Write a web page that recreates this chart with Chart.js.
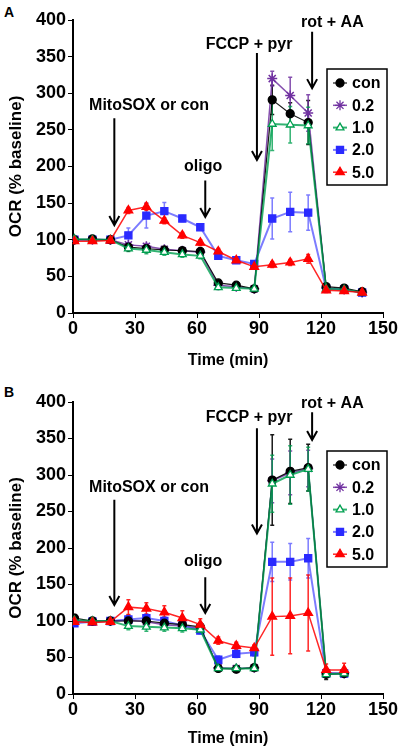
<!DOCTYPE html>
<html>
<head>
<meta charset="utf-8">
<script src="https://cdn.jsdelivr.net/npm/chart.js@4"></script>
<style>
  body { margin: 0; background: #fff; width: 400px; height: 752px; position: relative; overflow: hidden; }
  canvas { position: absolute; left: 0; }
  #chartA { top: 0; }
  #chartB { top: 382px; }
  .panel { position: absolute; left: 4px; font: bold 14px 'Liberation Sans', Arial, sans-serif; }
</style>
</head>
<body>
<div class="panel" style="top:4px">A</div>
<div class="panel" style="top:384px">B</div>
<canvas id="chartA" width="400" height="374"></canvas>
<canvas id="chartB" width="400" height="370"></canvas>
<script>
// time points (min)
const timeA = [0.7, 9.4, 18.1, 26.8, 35.5, 44.2, 52.9, 61.6, 70.3, 79.0, 87.7, 96.4, 105.1, 113.8, 122.5, 131.2, 139.9];
const timeB = [0.7, 9.4, 18.1, 26.8, 35.5, 44.2, 52.9, 61.6, 70.3, 79.0, 87.7, 96.4, 105.1, 113.8, 122.5, 131.2];

const seriesNames = ['con', '0.2', '1.0', '2.0', '5.0'];

// panel A, OCR (% baseline)
const conA = [100, 101, 100, 90, 88, 86, 85, 84, 41, 38, 33, 291, 272, 260, 36, 34, 29];
const p02A = [100, 100, 100, 93, 91, 87, 85, 83, 38, 36, 33, 320, 297, 273, 34, 32, 28];
const p10A = [101, 100, 100, 88, 86, 83, 80, 78, 35, 34, 33, 258, 257, 256, 33, 32, 28];
const p20A = [100, 100, 100, 106, 133, 139, 129, 117, 78, 72, 67, 129, 138, 137, 33, 32, 28];
const p50A = [98, 98, 99, 140, 145, 126, 106, 96, 84, 72, 63, 66, 69, 74, 31, 30, 28];
// error bars A
const conAErr = [2, 2, 2, 3, 3, 3, 3, 3, 3, 3, 3, 20, 15, 30, 3, 2, 2];
const p02AErr = [2, 2, 2, 3, 4, 3, 3, 3, 3, 3, 3, 10, 25, 25, 3, 2, 2];
const p10AErr = [3, 2, 2, 4, 5, 4, 4, 4, 3, 3, 3, 36, 25, 25, 3, 2, 2];
const p20AErr = [2, 2, 2, 10, 17, 12, 4, 3, 3, 3, 3, 28, 27, 24, 3, 2, 2];
const p50AErr = [3, 2, 2, 4, 5, 4, 4, 4, 4, 3, 3, 4, 4, 6, 3, 2, 2];

// panel B
const conB = [104, 100, 100, 100, 100, 97, 95, 92, 35, 34, 36, 293, 305, 310, 27, 28];
const p02B = [100, 100, 100, 101, 99, 95, 93, 90, 36, 35, 36, 292, 303, 309, 29, 28];
const p10B = [101, 100, 100, 93, 92, 91, 90, 88, 35, 35, 35, 288, 300, 308, 27, 28];
const p20B = [97, 99, 100, 102, 104, 100, 94, 87, 47, 55, 57, 181, 181, 186, 28, 28];
const p50B = [99, 98, 99, 119, 117, 112, 104, 95, 73, 66, 63, 106, 107, 111, 33, 33];
// error bars B
const conBErr = [5, 3, 3, 8, 8, 8, 6, 5, 3, 3, 3, 62, 44, 32, 7, 3];
const p02BErr = [3, 3, 3, 6, 6, 6, 5, 5, 3, 3, 3, 30, 30, 25, 3, 3];
const p10BErr = [3, 3, 3, 5, 6, 5, 5, 5, 3, 3, 3, 39, 40, 30, 3, 3];
const p20BErr = [4, 3, 3, 5, 6, 5, 4, 4, 5, 5, 5, 27, 25, 27, 4, 3];
const p50BErr = [4, 3, 3, 10, 8, 9, 10, 8, 5, 5, 4, 53, 52, 52, 8, 9];

// arrow annotations
const arrowLabels = ['MitoSOX or con', 'oligo', 'FCCP + pyr', 'rot + AA'];
const arrowTimes = [20, 64, 89, 115.7];
const labelTimes = [36.8, 63, 85.2, 125.5];

const FONT = "'Liberation Sans', Arial, sans-serif";

const styles = [
  { line: 'rgba(0,0,0,0.9)', point: '#000', fill: '#000', shape: 'circle', r: 4, w: 1.2 },
  { line: 'rgba(112,48,160,0.85)', point: '#7030a0', fill: '#7030a0', shape: 'star', r: 5, w: 1.5 },
  { line: 'rgba(0,160,80,0.8)', point: '#00a050', fill: '#fff', shape: 'triangle', r: 4.5, w: 2 },
  { line: 'rgba(80,80,255,0.75)', point: '#2a2aff', fill: '#2a2aff', shape: 'rect', r: 5, w: 2 },
  { line: 'rgba(255,0,0,0.85)', point: '#ff0000', fill: '#ff0000', shape: 'triangle', r: 5, w: 1.5 }
];
const drawOrder = [3, 5, 2, 4, 1];

function makeDatasets(times, values, errs) {
  return values.map((vals, i) => ({
    label: seriesNames[i],
    data: vals.map((v, k) => ({ x: times[k], y: v })),
    errorBars: errs[i],
    borderColor: styles[i].line,
    borderWidth: styles[i].w,
    pointStyle: styles[i].shape,
    pointRadius: styles[i].r,
    pointBorderColor: styles[i].point,
    pointBackgroundColor: styles[i].fill,
    pointBorderWidth: i === 1 ? 1.5 : 1.3,
    tension: 0,
    order: drawOrder[i]
  }));
}

const errorBarPlugin = {
  id: 'errorBars',
  beforeDatasetsDraw(chart) {
    const ctx = chart.ctx;
    const ys = chart.scales.y;
    chart.data.datasets.forEach((ds, i) => {
      const meta = chart.getDatasetMeta(i);
      ctx.save();
      ctx.strokeStyle = styles[i].line;
      ctx.lineWidth = 1.5;
      meta.data.forEach((pt, k) => {
        const e = ds.errorBars[k];
        const v = ds.data[k].y;
        const yTop = ys.getPixelForValue(v + e);
        const yBot = ys.getPixelForValue(v - e);
        ctx.beginPath();
        ctx.moveTo(pt.x, yTop); ctx.lineTo(pt.x, yBot);
        ctx.moveTo(pt.x - 2, yTop); ctx.lineTo(pt.x + 2, yTop);
        ctx.moveTo(pt.x - 2, yBot); ctx.lineTo(pt.x + 2, yBot);
        ctx.stroke();
      });
      ctx.restore();
    });
  }
};

const annotationPlugin = {
  id: 'arrowsLegend',
  afterDraw(chart) {
    const ctx = chart.ctx;
    const xs = chart.scales.x, ys = chart.scales.y;
    const ann = chart.options.plugins.arrowsLegend;
    ctx.save();
    ctx.font = 'bold 16px ' + FONT;
    ctx.fillStyle = '#000';
    ctx.strokeStyle = '#000';
    ctx.lineWidth = 2;
    ctx.textAlign = 'center';
    ctx.textBaseline = 'middle';
    arrowLabels.forEach((lab, i) => {
      ctx.fillText(lab, xs.getPixelForValue(labelTimes[i]), ys.getPixelForValue(ann.labelY[i]));
      const ax = xs.getPixelForValue(arrowTimes[i]);
      const y0 = ys.getPixelForValue(ann.top[i]);
      const y1 = ys.getPixelForValue(ann.tip[i]);
      ctx.beginPath();
      ctx.moveTo(ax, y0); ctx.lineTo(ax, y1);
      ctx.moveTo(ax - 5, y1 - 9); ctx.lineTo(ax, y1); ctx.lineTo(ax + 5, y1 - 9);
      ctx.stroke();
    });
    // legend box
    const bx = 327, by = chart.chartArea.top + 49, bw = 60, bh = 116;
    ctx.lineWidth = 1.5;
    ctx.strokeRect(bx, by, bw, bh);
    ctx.textAlign = 'left';
    chart.data.datasets.forEach((ds, i) => {
      const cy = by + 14 + i * 22.3;
      ctx.strokeStyle = styles[i].line;
      ctx.lineWidth = styles[i].w;
      ctx.beginPath(); ctx.moveTo(333, cy); ctx.lineTo(347, cy); ctx.stroke();
      ctx.fillStyle = styles[i].fill;
      ctx.strokeStyle = styles[i].point;
      ctx.lineWidth = 1.3;
      Chart.helpers.drawPoint(ctx, { pointStyle: styles[i].shape, radius: styles[i].r, borderWidth: 1.3, rotation: 0 }, 340, cy);
      ctx.fillStyle = '#000';
      ctx.fillText(ds.label, 352, cy + 1);
    });
    ctx.restore();
  }
};

function makeChart(id, times, values, errs, xHeight, ann) {
  return new Chart(document.getElementById(id), {
    type: 'line',
    data: { datasets: makeDatasets(times, values, errs) },
    options: {
      responsive: false,
      animation: false,
      layout: { padding: { top: 20, right: 17, left: 0, bottom: 0 } },
      plugins: { legend: { display: false }, tooltip: { enabled: false }, arrowsLegend: ann },
      scales: {
        x: {
          type: 'linear', min: 0, max: 150,
          ticks: { stepSize: 30, color: '#000', font: { family: FONT, size: 18, weight: 'bold' }, padding: 0, maxRotation: 0 },
          grid: { drawOnChartArea: false, color: '#000', tickLength: 5 },
          border: { color: '#000', width: 2 },
          title: { display: true, text: 'Time (min)', color: '#000', font: { family: FONT, size: 16, weight: 'bold' }, padding: { top: 8 } },
          afterFit(s) { s.height = xHeight; }
        },
        y: {
          min: 0, max: 400,
          ticks: { stepSize: 50, color: '#000', font: { family: FONT, size: 18, weight: 'bold' }, padding: 2 },
          grid: { drawOnChartArea: false, color: '#000', tickLength: 5 },
          border: { color: '#000', width: 2 },
          title: { display: true, text: 'OCR (% baseline)', color: '#000', font: { family: FONT, size: 17, weight: 'bold' }, padding: { top: 6, bottom: 0 } },
          afterFit(s) { s.width = 73; }
        }
      }
    },
    plugins: [errorBarPlugin, annotationPlugin]
  });
}

makeChart('chartA', timeA, [conA, p02A, p10A, p20A, p50A],
  [conAErr, p02AErr, p10AErr, p20AErr, p50AErr], 61,
  { labelY: [283, 200, 366, 397], top: [266, 181, 355, 384], tip: [120, 131, 209, 307] });

makeChart('chartB', timeB, [conB, p02B, p10B, p20B, p50B],
  [conBErr, p02BErr, p10BErr, p20BErr, p50BErr], 58,
  { labelY: [283, 181, 378, 398], top: [266, 160, 364, 386], tip: [122, 111, 220, 348] });
</script>
</body>
</html>
